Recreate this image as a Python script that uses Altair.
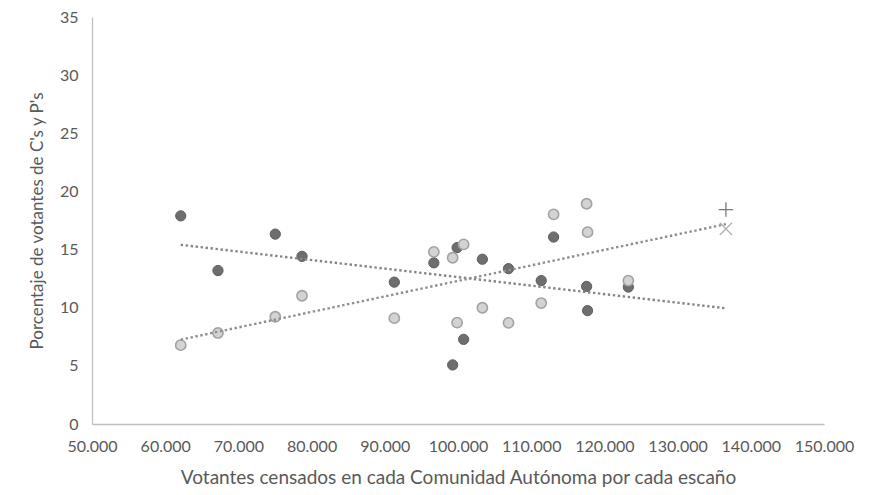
import altair as alt
import pandas as pd

# Votantes censados por escaño (eje X) para cada Comunidad Autónoma
votantes_por_escano = [62120, 67210, 75040, 78690, 91300, 96700, 99270, 99880,
                       100770, 103330, 106900, 111370, 113060, 117570, 117700, 123270]
# Porcentaje de votantes - serie oscura
serie_oscura = [17.9, 13.2, 16.33, 14.42, 12.2, 13.86, 5.08, 15.17,
                7.28, 14.17, 13.36, 12.33, 16.08, 11.83, 9.75, 11.78]
# Porcentaje de votantes - serie clara
serie_clara = [6.78, 7.83, 9.22, 11.03, 9.1, 14.8, 14.3, 8.72,
               15.45, 10.0, 8.7, 10.4, 18.03, 18.94, 16.5, 12.33]

# Extensión de las líneas de tendencia (pronóstico hacia delante)
tendencia_extension = [62120, 136600]

# Marcadores sueltos al final de las tendencias
marcador_x = [136600]
marcador_mas_y = [18.44]
marcador_aspa_y = [16.78]

x_ticks = [50000, 60000, 70000, 80000, 90000, 100000, 110000, 120000, 130000, 140000, 150000]
y_ticks = [0, 5, 10, 15, 20, 25, 30, 35]

df_osc = pd.DataFrame({"x": votantes_por_escano, "y": serie_oscura})
df_cla = pd.DataFrame({"x": votantes_por_escano, "y": serie_clara})
df_mas = pd.DataFrame({"x": marcador_x, "y": marcador_mas_y})
df_aspa = pd.DataFrame({"x": marcador_x, "y": marcador_aspa_y})

FONT = "Lato"
TXT = "#595959"

x_enc = alt.X(
    "x:Q",
    scale=alt.Scale(domain=[50000, 150000], nice=False, zero=False),
    axis=alt.Axis(
        values=x_ticks,
        labelExpr="replace(format(datum.value, ','), ',', '.')",
        title="Votantes  censados en cada Comunidad Autónoma  por cada escaño",
        grid=False, ticks=False, domain=True, domainColor="#c0c0c0", domainWidth=1.3,
        labelFont=FONT, labelFontSize=16, labelColor=TXT, labelPadding=14,
        titleFont=FONT, titleFontSize=19, titleColor=TXT, titleFontWeight="normal",
        titlePadding=14, labelFlush=False,
    ),
)
y_enc = alt.Y(
    "y:Q",
    scale=alt.Scale(domain=[0, 35], nice=False),
    axis=alt.Axis(
        values=y_ticks,
        title="Porcentaje de votantes de C's y P's",
        grid=False, ticks=False, domain=True, domainColor="#c0c0c0", domainWidth=1.3,
        labelFont=FONT, labelFontSize=16, labelColor=TXT, labelPadding=14,
        titleFont=FONT, titleFontSize=17, titleColor=TXT, titleFontWeight="normal",
        titlePadding=13,
    ),
)

puntos_osc = alt.Chart(df_osc).mark_point(
    shape="circle", filled=True, size=105, color="#6e6e6e", stroke="#5e5e5e",
    strokeWidth=1, opacity=1
).encode(x=x_enc, y=y_enc)

puntos_cla = alt.Chart(df_cla).mark_point(
    shape="circle", filled=True, size=105, fill="#d3d3d3", stroke="#a3a3a3",
    strokeWidth=1.6, opacity=1
).encode(x="x:Q", y="y:Q")

tend_osc = alt.Chart(df_osc).transform_regression(
    "x", "y", extent=tendencia_extension
).mark_line(
    color="#858585", strokeWidth=2.4, strokeDash=[2.4, 2.6], strokeCap="butt"
).encode(x="x:Q", y="y:Q")

tend_cla = alt.Chart(df_cla).transform_regression(
    "x", "y", extent=tendencia_extension
).mark_line(
    color="#8f8f8f", strokeWidth=2.4, strokeDash=[2.4, 2.6], strokeCap="butt"
).encode(x="x:Q", y="y:Q")

mas = alt.Chart(df_mas).mark_point(
    shape="M-1,0L1,0M0,-1L0,1", size=210, filled=False, stroke="#7a7a7a",
    strokeWidth=1.3, opacity=1
).encode(x="x:Q", y="y:Q")

aspa = alt.Chart(df_aspa).mark_point(
    shape="M-1,-1L1,1M-1,1L1,-1", size=150, filled=False, stroke="#b0b0b0",
    strokeWidth=1.3, opacity=1
).encode(x="x:Q", y="y:Q")

chart = alt.layer(
    puntos_osc, puntos_cla, tend_osc, tend_cla, mas, aspa
).properties(
    width=732, height=407,
    padding={"left": 84, "top": 9, "right": 48, "bottom": 63},
    autosize=alt.AutoSizeParams(type="none"),
    background="white",
).configure_view(stroke=None)

chart.save("out.html", embed_options={"renderer": "svg", "actions": False})
